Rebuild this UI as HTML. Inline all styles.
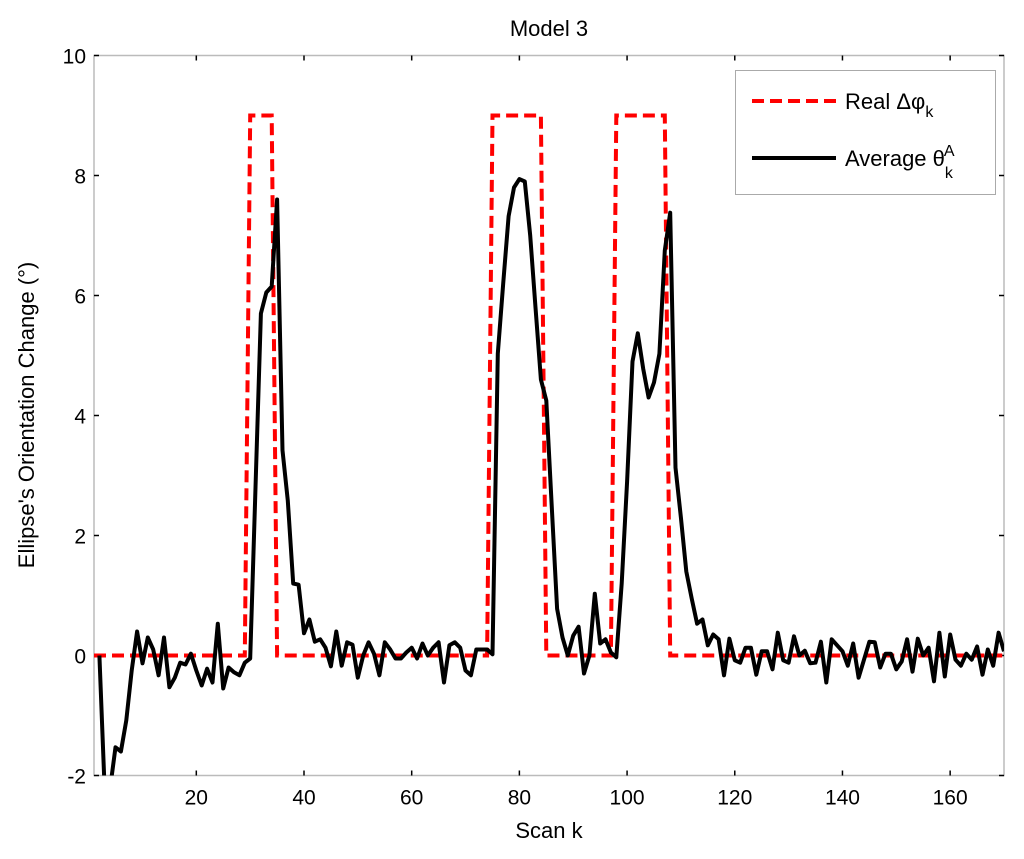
<!DOCTYPE html>
<html><head><meta charset="utf-8"><style>
html,body{margin:0;padding:0;background:#fff;width:1024px;height:859px;overflow:hidden;}
svg{display:block;font-family:"Liberation Sans",Arial,sans-serif;}
</style></head><body>
<svg id="chart" width="1024" height="859" viewBox="0 0 1024 859">
<g id="axes"></g>
<g id="series"></g>
<text x="549" y="36" font-size="22" text-anchor="middle">Model 3</text>
<text x="549" y="838" font-size="22" text-anchor="middle">Scan k</text>
<text transform="translate(34,415) rotate(-90)" font-size="22" text-anchor="middle">Ellipse's Orientation Change (°)</text>
<g>
<rect x="735.5" y="70.5" width="260" height="124" fill="#fff" stroke="#aaa" stroke-width="1"/>
<line x1="752" y1="101" x2="836" y2="101" stroke="#f00" stroke-width="4" stroke-dasharray="12,6"/>
<text x="845" y="109" font-size="22">Real Δφ<tspan font-size="16" dy="8">k</tspan></text>
<line x1="752" y1="158" x2="836" y2="158" stroke="#000" stroke-width="4"/>
<text x="845" y="166" font-size="22">Average θ<tspan font-size="16" dy="12">k</tspan><tspan font-size="16" dx="-9" dy="-22">A</tspan></text>
</g>
</svg>
<script>
const xTicks = [20,40,60,80,100,120,140,160];
const yTicks = [-2,0,2,4,6,8,10];
const realK = [1,29,30,34,35,74,75,84,85,97,98,107,108,170];
const realV = [0,0,9,9,0,0,9,9,0,0,9,9,0,0];
const avgStart = 2;
const avgV = [0,-5,-2.2,-1.53,-1.6,-1.08,-0.25,0.4,-0.13,0.3,0.1,-0.33,0.3,-0.53,-0.37,-0.12,-0.15,0.03,-0.25,-0.5,-0.22,-0.45,0.53,-0.55,-0.2,-0.28,-0.33,-0.12,-0.05,
2.8,5.7,6.05,6.15,7.6,3.42,2.58,1.2,1.18,0.37,0.6,0.23,0.27,0.13,-0.18,0.4,-0.17,0.22,0.18,-0.37,0,0.22,0.03,-0.33,0.22,0.1,-0.05,-0.05,0.05,0.13,-0.05,0.2,0,0.13,0.22,-0.45,0.17,0.22,0.13,-0.25,-0.33,0.1,0.1,0.1,0.02,
5.03,6.2,7.32,7.8,7.94,7.9,7.0,5.8,4.6,4.25,2.5,0.78,0.3,0.0,0.33,0.48,-0.3,0.0,1.03,0.2,0.27,0.05,-0.03,
1.2,2.9,4.9,5.37,4.78,4.3,4.55,5.03,6.75,7.38,3.13,2.3,1.4,
0.95,0.53,0.6,0.17,0.35,0.27,-0.33,0.28,-0.08,-0.12,0.13,0.13,-0.32,0.07,0.07,-0.23,0.38,-0.08,-0.12,0.32,0,0.08,-0.13,-0.12,0.23,-0.45,0.27,0.17,0.07,-0.17,0.2,-0.37,-0.07,0.23,0.22,-0.2,0.03,0.03,-0.23,-0.1,0.27,-0.27,0.28,0,0.13,-0.43,0.38,-0.35,0.35,-0.07,-0.17,0.03,-0.07,0.15,-0.32,0.1,-0.17,0.38,0.07];

const L=94,R=1004,T=55.5,B=775.5,X0=1,X1=170,Y0=-2,Y1=10;
const sx=k=>L+(Math.min(Math.max(k,X0),X1)-X0)*(R-L)/(X1-X0);
const sy=v=>B-(Math.min(Math.max(v,Y0-0.3),Y1)-Y0)*(B-T)/(Y1-Y0);
const NS='http://www.w3.org/2000/svg';
function mk(tag,attrs,parent){const e=document.createElementNS(NS,tag);for(const k in attrs)e.setAttribute(k,attrs[k]);parent.appendChild(e);return e;}
const axes=document.getElementById('axes');
const frame=mk('rect',{x:L,y:T,width:R-L,height:B-T,fill:'none',stroke:'#bbb','stroke-width':1.5},axes);


xTicks.forEach(t=>{
  const x=sx(t);
  const tb=mk('line',{x1:x,y1:B,x2:x,y2:B-5,stroke:'#000','stroke-width':1.5},axes);
  
  
  const tt=mk('line',{x1:x,y1:T,x2:x,y2:T+5,stroke:'#000','stroke-width':1.5},axes);
  
  
  const lb=mk('text',{x:x,y:B+29,'font-size':21,'text-anchor':'middle'},axes);
  lb.textContent=t;
  
  
});
yTicks.forEach(t=>{
  const y=sy(t);
  const tl=mk('line',{x1:L,y1:y,x2:L+5,y2:y,stroke:'#000','stroke-width':1.5},axes);
  
  
  const tr=mk('line',{x1:R,y1:y,x2:R-5,y2:y,stroke:'#000','stroke-width':1.5},axes);
  
  
  const lb=mk('text',{x:L-8,y:y+8,'font-size':21,'text-anchor':'end'},axes);
  lb.textContent=t;
  
  
});
const series=document.getElementById('series');
const defs=mk('defs',{},series);
const cp=mk('clipPath',{id:'clip'},defs);
mk('rect',{x:L,y:T,width:R-L,height:B-T},cp);
const realPts=realK.map((k,i)=>sx(k).toFixed(1)+','+sy(realV[i]).toFixed(1)).join(' ');
const realLine=mk('polyline',{points:realPts,fill:'none',stroke:'#f00','stroke-width':4,'stroke-dasharray':'12,6','clip-path':'url(#clip)'},series);


const avgPts=avgV.map((v,i)=>sx(avgStart+i).toFixed(1)+','+sy(v).toFixed(1)).join(' ');
const avgLine=mk('polyline',{points:avgPts,fill:'none',stroke:'#000','stroke-width':4,'stroke-linejoin':'round','clip-path':'url(#clip)'},series);


</script>
</body></html>
